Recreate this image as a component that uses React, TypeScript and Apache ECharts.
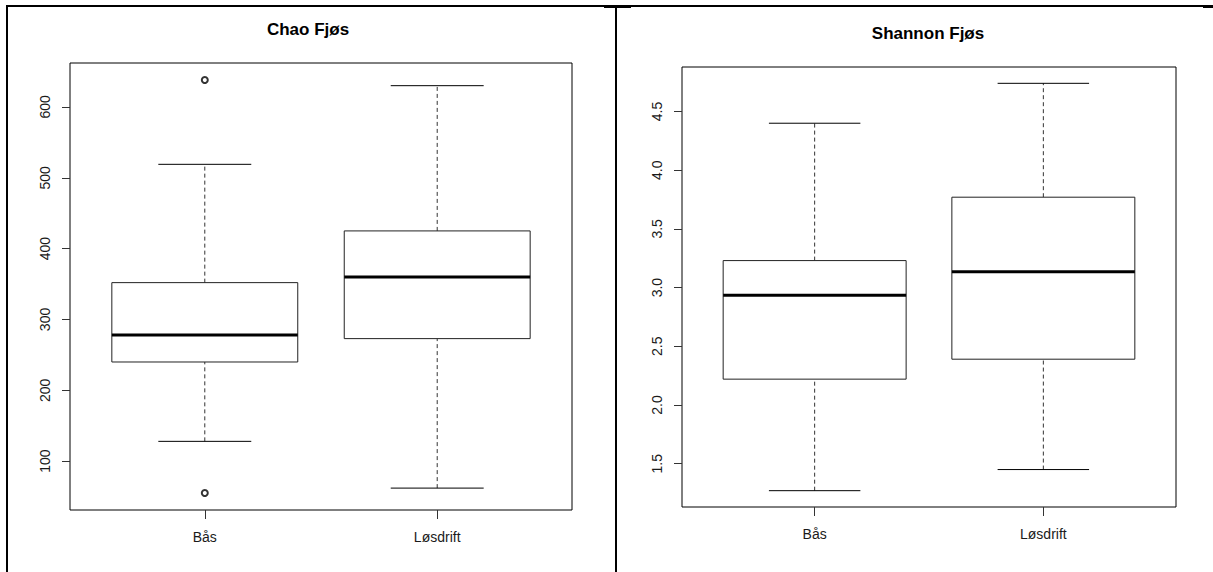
import React, { useEffect, useRef } from "react";
import * as echarts from "echarts";

const categories = ["Bås", "Løsdrift"];
// [min whisker, Q1, median, Q3, max whisker]
const chaoBas = [128, 240, 278, 352, 519];
const chaoLosdrift = [62, 273, 360, 425, 630];
const chaoOutliersBas = [638, 55];
const chaoTicks = [100, 200, 300, 400, 500, 600];
const shannonBas = [1.27, 2.22, 2.935, 3.23, 4.40];
const shannonLosdrift = [1.45, 2.39, 3.135, 3.77, 4.74];
const shannonTicks = [1.5, 2.0, 2.5, 3.0, 3.5, 4.0, 4.5];

const FONT = "Arial, 'Liberation Sans', sans-serif";
const TXT = "#1a1a1a";

function renderBox(params: any, api: any) {
  const x = api.value(0);
  const mn = api.value(1), q1 = api.value(2), md = api.value(3), q3 = api.value(4), mx = api.value(5);
  const hw = 0.4, cw = 0.2;
  const c = (xx: number, yy: number) => api.coord([xx, yy]);
  const line = (a: number[], b: number[], style: any) => ({
    type: "line",
    shape: { x1: a[0], y1: a[1], x2: b[0], y2: b[1] },
    style: Object.assign({ stroke: "#000", lineWidth: 1 }, style),
  });
  const bl = c(x - hw, q1), tr = c(x + hw, q3);
  return {
    type: "group",
    children: [
      line(c(x, q3), c(x, mx), { lineDash: [4, 3], stroke: "#333" }),
      line(c(x, mn), c(x, q1), { lineDash: [4, 3], stroke: "#333" }),
      line(c(x - cw, mx), c(x + cw, mx), {}),
      line(c(x - cw, mn), c(x + cw, mn), {}),
      {
        type: "rect",
        shape: { x: bl[0], y: tr[1], width: tr[0] - bl[0], height: bl[1] - tr[1] },
        style: { fill: "#fff", stroke: "#222", lineWidth: 1 },
      },
      line(c(x - hw, md), c(x + hw, md), { lineWidth: 3 }),
    ],
  };
}

export default function App() {
  const ref = useRef<HTMLDivElement>(null);
  useEffect(() => {
    if (!ref.current) return;
    const chart = echarts.init(ref.current, null, { renderer: "svg" });
    const xAxisBase = (gi: number) => ({
      type: "value",
      gridIndex: gi,
      min: 0.42,
      max: 2.58,
      axisLine: { show: false },
      splitLine: { show: false },
      axisTick: { show: true, customValues: [1, 2], length: 9, lineStyle: { color: "#333" } },
      axisLabel: {
        customValues: [1, 2],
        formatter: (v: number) => categories[Math.round(v) - 1],
        color: TXT,
        fontSize: 14,
        fontFamily: FONT,
        margin: 20,
      },
    });
    const yAxisBase = (gi: number, min: number, max: number, ticks: number[], dec: number) => ({
      type: "value",
      gridIndex: gi,
      min,
      max,
      axisLine: { show: false },
      splitLine: { show: false },
      axisTick: { show: true, customValues: ticks, length: 8, lineStyle: { color: "#333" } },
      axisLabel: {
        customValues: ticks,
        formatter: (v: number) => v.toFixed(dec),
        rotate: 90,
        color: TXT,
        fontSize: 14,
        fontFamily: FONT,
        margin: 18,
      },
    });
    const option: any = {
      animation: false,
      backgroundColor: "#fff",
      grid: [
        { left: 70, top: 63, width: 502, height: 447, show: true, borderColor: "#000", borderWidth: 1, backgroundColor: "transparent" },
        { left: 682, top: 67, width: 494, height: 440, show: true, borderColor: "#000", borderWidth: 1, backgroundColor: "transparent" },
      ],
      xAxis: [xAxisBase(0), xAxisBase(1)],
      yAxis: [
        yAxisBase(0, 31.1, 662, chaoTicks, 0),
        yAxisBase(1, 1.131, 4.879, shannonTicks, 1),
      ],
      series: [
        {
          type: "custom",
          xAxisIndex: 0,
          yAxisIndex: 0,
          renderItem: renderBox,
          encode: { x: 0, y: [1, 2, 3, 4, 5] },
          data: [[1, ...chaoBas], [2, ...chaoLosdrift]],
        },
        {
          type: "scatter",
          xAxisIndex: 0,
          yAxisIndex: 0,
          symbol: "emptyCircle",
          symbolSize: 6,
          itemStyle: { color: "#000", borderColor: "#222", borderWidth: 1 },
          data: chaoOutliersBas.map((v) => [1, v]),
        },
        {
          type: "custom",
          xAxisIndex: 1,
          yAxisIndex: 1,
          renderItem: renderBox,
          encode: { x: 0, y: [1, 2, 3, 4, 5] },
          data: [[1, ...shannonBas], [2, ...shannonLosdrift]],
        },
      ],
      graphic: [
        { type: "rect", shape: { x: 6, y: 6, width: 2, height: 566 }, style: { fill: "#000" } },
        { type: "rect", shape: { x: 6, y: 5, width: 1207, height: 2 }, style: { fill: "#000" } },
        { type: "rect", shape: { x: 615, y: 6, width: 2, height: 566 }, style: { fill: "#000" } },
        { type: "rect", shape: { x: 604, y: 5, width: 27, height: 3 }, style: { fill: "#000" } },
        { type: "rect", shape: { x: 1203, y: 5, width: 10, height: 3 }, style: { fill: "#000" } },
        {
          type: "text",
          x: 308,
          y: 29,
          style: { text: "Chao Fjøs", fontSize: 17, fontWeight: "bold", fontFamily: FONT, fill: "#000", align: "center", verticalAlign: "middle" },
        },
        {
          type: "text",
          x: 928,
          y: 33,
          style: { text: "Shannon Fjøs", fontSize: 17, fontWeight: "bold", fontFamily: FONT, fill: "#000", align: "center", verticalAlign: "middle" },
        },
      ],
    };
    chart.setOption(option);
    return () => chart.dispose();
  }, []);
  return <div ref={ref} style={{ position: "fixed", left: 0, top: 0, width: 1213, height: 572 }} />;
}
